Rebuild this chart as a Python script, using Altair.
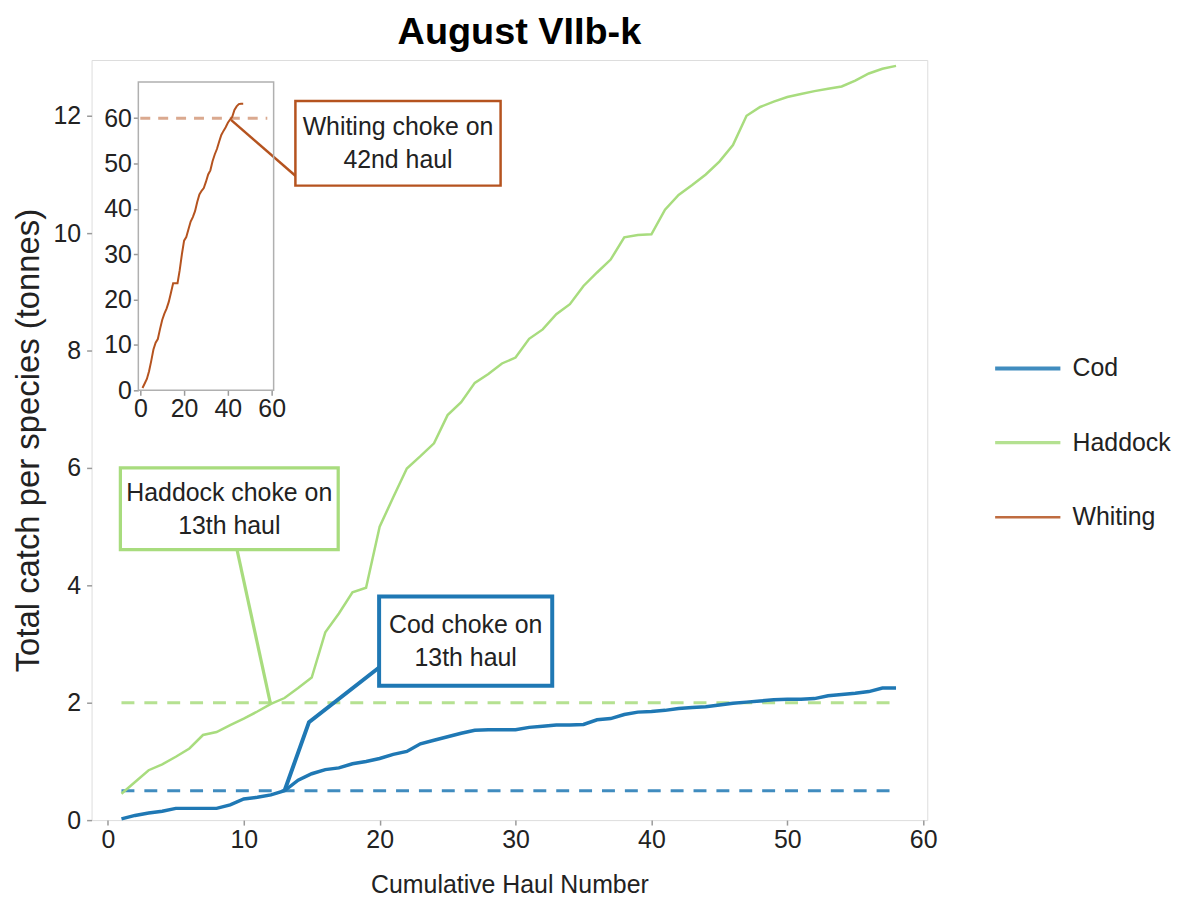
import altair as alt
import pandas as pd

# ---------------- data ----------------
hauls = list(range(1, 59))
cod = [0.02, 0.08, 0.12, 0.15, 0.20, 0.20, 0.20, 0.20, 0.26, 0.36,
       0.39, 0.43, 0.50, 0.68, 0.79, 0.86, 0.89, 0.96, 1.00, 1.05,
       1.12, 1.17, 1.30, 1.36, 1.42, 1.48, 1.53, 1.54, 1.54, 1.54,
       1.58, 1.60, 1.62, 1.62, 1.63, 1.71, 1.73, 1.80, 1.84, 1.85,
       1.87, 1.90, 1.92, 1.93, 1.96, 1.99, 2.01, 2.03, 2.05, 2.06,
       2.06, 2.07, 2.12, 2.14, 2.16, 2.19, 2.25, 2.25]
haddock = [0.45, 0.65, 0.85, 0.95, 1.08, 1.22, 1.45, 1.50, 1.62, 1.73,
           1.85, 1.98, 2.08, 2.25, 2.43, 3.20, 3.52, 3.88, 3.96, 5.00,
           5.50, 5.99, 6.20, 6.42, 6.90, 7.12, 7.45, 7.60, 7.78, 7.88,
           8.20, 8.36, 8.62, 8.79, 9.10, 9.33, 9.55, 9.93, 9.97, 9.98,
           10.40, 10.65, 10.82, 11.00, 11.22, 11.50, 12.00, 12.15, 12.24, 12.32,
           12.37, 12.42, 12.46, 12.50, 12.60, 12.72, 12.80, 12.85]
whiting_hauls = list(range(1, 48))
whiting = [0.5, 1.5, 2.5, 4.2, 6.5, 9.0, 10.5, 11.3, 13.5, 15.5,
           16.9, 18.0, 19.5, 21.5, 23.6, 23.6, 23.6, 26.5, 30.0, 33.0,
           33.8, 35.5, 37.2, 38.2, 39.5, 41.5, 43.2, 44.0, 44.6, 46.0,
           47.6, 48.5, 50.5, 52.0, 53.2, 54.8, 56.3, 57.2, 58.0, 59.0,
           59.7, 60.3, 61.8, 62.6, 63.1, 63.2, 63.2]

species = ["Cod", "Haddock", "Whiting"]
colors = ["#1f78b4", "#a8dc7e", "#b5531f"]

limit_species = ["Cod", "Haddock"]
limit_values = [0.5, 2.0]
limit_start = [1, 1]
limit_end = [58, 58]

whiting_limit = 60.0
whiting_limit_start = 0
whiting_limit_end = 58

box_species = ["Whiting", "Haddock", "Cod"]
box_labels = ["Whiting choke on\n42nd haul", "Haddock choke on\n13th haul", "Cod choke on\n13th haul"]
box_x1 = [13.8, 0.92, 19.96]
box_x2 = [28.9, 16.95, 32.7]
box_y1 = [10.81, 4.61, 2.29]
box_y2 = [12.25, 6.00, 3.81]

ptr_species = ["Whiting", "Whiting", "Haddock", "Haddock", "Cod", "Cod", "Cod"]
ptr_order = [0, 1, 0, 1, 0, 1, 2]
ptr_x = [9.06, 13.84, 11.95, 9.5, 13.0, 14.8, 19.96]
ptr_y = [11.93, 10.97, 2.0, 4.61, 0.5, 1.67, 2.6]

X_DOMAIN = [-1.2, 60.3]
Y_DOMAIN = [0, 12.95]
INSET_X = [-0.9, 60.9]
INSET_Y = [0, 68]

W, H = 840, 764
FONT = "Liberation Sans"
FS = 25
TXT = "#222222"

# ---------------- frames ----------------
df_cod = pd.DataFrame({"haul": hauls, "catch": cod, "species": "Cod"})
df_had = pd.DataFrame({"haul": hauls, "catch": haddock, "species": "Haddock"})
df_whi = pd.DataFrame({"haul": whiting_hauls, "catch": whiting, "species": "Whiting"})
df_lim = pd.DataFrame({"species": limit_species, "limit": limit_values,
                       "start": limit_start, "end": limit_end})
df_wlim = pd.DataFrame({"species": ["Whiting"], "limit": [whiting_limit],
                        "start": [whiting_limit_start], "end": [whiting_limit_end]})
df_box = pd.DataFrame({"species": box_species, "label": box_labels,
                       "x1": box_x1, "x2": box_x2, "y1": box_y1, "y2": box_y2})
df_ptr = pd.DataFrame({"species": ptr_species, "order": ptr_order, "x": ptr_x, "y": ptr_y})
df_frame = pd.DataFrame({"x1": [INSET_X[0]], "x2": [INSET_X[1]], "y1": [INSET_Y[0]], "y2": [INSET_Y[1]]})

color_scale = alt.Scale(domain=species, range=colors)
xs = alt.Scale(domain=X_DOMAIN, nice=False, zero=False)
ys = alt.Scale(domain=Y_DOMAIN, nice=False, zero=False)

x_axis = alt.Axis(values=[0, 10, 20, 30, 40, 50, 60], grid=False, domain=False, format="d",
                  tickColor="#9a9a9a", tickSize=5, tickWidth=1.5,
                  labelFont=FONT, labelFontSize=FS, labelColor=TXT, labelPadding=3,
                  title="Cumulative Haul Number", titleFont=FONT, titleFontSize=FS,
                  titleFontWeight="normal", titleColor=TXT, titlePadding=20)
y_axis = alt.Axis(values=[0, 2, 4, 6, 8, 10, 12], grid=False, domain=False, format="d",
                  tickColor="#9a9a9a", tickSize=5, tickWidth=1.5,
                  labelFont=FONT, labelFontSize=FS, labelColor=TXT, labelPadding=6,
                  title="Total catch per species (tonnes)", titleFont=FONT, titleFontSize=33,
                  titleFontWeight="normal", titleColor=TXT, titlePadding=8)

legend = alt.Legend(title="", orient="none", legendX=906, legendY=275,
                    symbolType="stroke", symbolSize=4300, symbolStrokeWidth=4,
                    labelFont=FONT, labelFontSize=FS, labelColor=TXT,
                    labelOffset=10, rowPadding=27)

cod_line = alt.Chart(df_cod).mark_line(strokeWidth=3.5).encode(
    x=alt.X("haul:Q", scale=xs, axis=x_axis),
    y=alt.Y("catch:Q", scale=ys, axis=y_axis),
    color=alt.Color("species:N", scale=color_scale, legend=legend),
)
had_line = alt.Chart(df_had).mark_line(strokeWidth=2.5).encode(
    x=alt.X("haul:Q", scale=xs),
    y=alt.Y("catch:Q", scale=ys),
    color=alt.Color("species:N", scale=color_scale, legend=legend),
)
limits = alt.Chart(df_lim).mark_rule(strokeWidth=3, strokeDash=[13, 10], opacity=0.85).encode(
    x=alt.X("start:Q", scale=xs),
    x2="end:Q",
    y=alt.Y("limit:Q", scale=ys),
    color=alt.Color("species:N", scale=color_scale, legend=legend),
)
pointers = alt.Chart(df_ptr).mark_line(strokeCap="butt").encode(
    x=alt.X("x:Q", scale=xs),
    y=alt.Y("y:Q", scale=ys),
    order="order:Q",
    detail="species:N",
    stroke=alt.Stroke("species:N", scale=color_scale, legend=None),
    strokeWidth=alt.StrokeWidth("species:N", scale=alt.Scale(domain=species, range=[4, 2.5, 4]), legend=None),
)
boxes = alt.Chart(df_box).mark_rect(fill="white").encode(
    x=alt.X("x1:Q", scale=xs),
    x2="x2:Q",
    y=alt.Y("y1:Q", scale=ys),
    y2="y2:Q",
    stroke=alt.Stroke("species:N", scale=color_scale, legend=None),
    strokeWidth=alt.StrokeWidth("species:N", scale=alt.Scale(domain=species, range=[3.5, 3, 4]), legend=None),
)
box_text = alt.Chart(df_box).transform_calculate(
    xm="(datum.x1 + datum.x2) / 2", ym="(datum.y1 + datum.y2) / 2"
).mark_text(font=FONT, fontSize=FS, color=TXT, lineBreak="\n",
            lineHeight=33, align="center", baseline="middle", dy=-16).encode(
    x=alt.X("xm:Q", scale=xs),
    y=alt.Y("ym:Q", scale=ys),
    text="label:N",
)

main = alt.layer(limits, pointers, had_line, cod_line, boxes, box_text)

# ---------------- inset ----------------
ixs = alt.Scale(domain=INSET_X, range=[47, 183], nice=False, zero=False)
iys = alt.Scale(domain=INSET_Y, range=[332, 22], nice=False, zero=False)
ix_axis = alt.Axis(orient="bottom", offset=-432, values=[0, 20, 40, 60], grid=False, format="d",
                   domain=False, tickColor="#9a9a9a", tickSize=5, tickWidth=1.5,
                   labelFont=FONT, labelFontSize=FS, labelColor=TXT, labelPadding=1,
                   title="")
iy_axis = alt.Axis(orient="left", offset=-47, values=[0, 10, 20, 30, 40, 50, 60], grid=False, format="d",
                   domain=False, tickColor="#9a9a9a", tickSize=5, tickWidth=1.5,
                   labelFont=FONT, labelFontSize=FS, labelColor=TXT, labelPadding=2,
                   title="")

frame = alt.Chart(df_frame).mark_rect(fill="transparent", stroke="#b0b0b0", strokeWidth=1.5).encode(
    x=alt.X("x1:Q", scale=ixs, axis=ix_axis),
    x2="x2:Q",
    y=alt.Y("y1:Q", scale=iys, axis=iy_axis),
    y2="y2:Q",
)
wlim = alt.Chart(df_wlim).mark_rule(strokeWidth=3, strokeDash=[10, 8], opacity=0.5).encode(
    x=alt.X("start:Q", scale=ixs),
    x2="end:Q",
    y=alt.Y("limit:Q", scale=iys),
    color=alt.Color("species:N", scale=color_scale, legend=legend),
)
wline = alt.Chart(df_whi).mark_line(strokeWidth=2).encode(
    x=alt.X("haul:Q", scale=ixs),
    y=alt.Y("catch:Q", scale=iys),
    color=alt.Color("species:N", scale=color_scale, legend=legend),
)
inset = alt.layer(frame, wlim, wline)

chart = alt.layer(main, inset).resolve_scale(
    x="independent", y="independent"
).properties(
    width=W, height=H,
    title=alt.TitleParams("August VIIb-k", font=FONT, fontSize=38, fontWeight="bold",
                          color="#000000", anchor="middle", offset=8, dx=10),
    padding={"left": 84, "top": 50, "right": 250, "bottom": 75},
    autosize=alt.AutoSizeParams(type="none"),
).configure_view(stroke="#a6a6a6", strokeWidth=1.5).configure(background="white")

chart.save("out.html", embed_options={"renderer": "svg", "actions": False})
